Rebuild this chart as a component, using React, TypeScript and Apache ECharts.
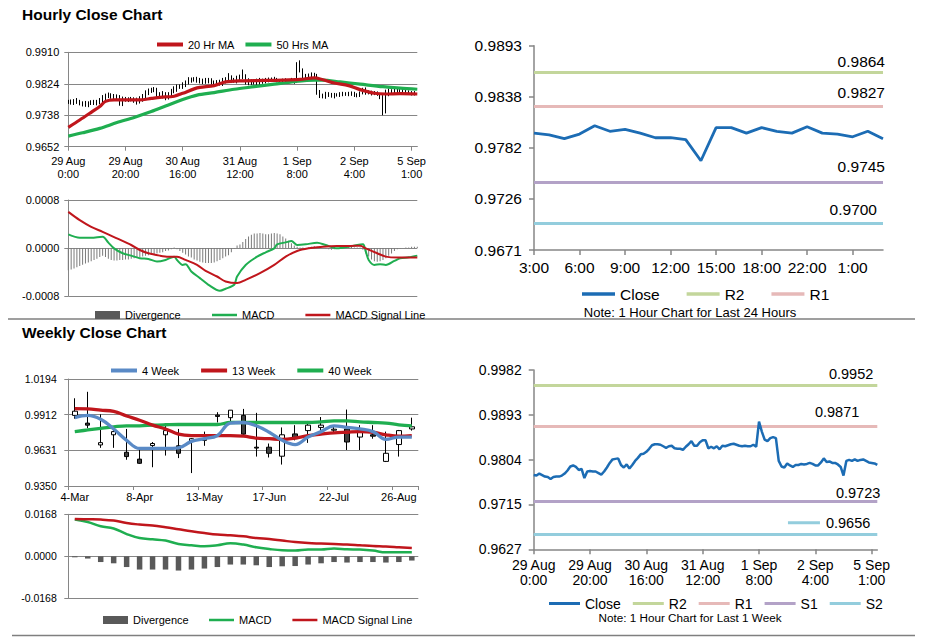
import React, { useEffect, useRef } from 'react';
import * as echarts from 'echarts';

// ---------------- DATA ----------------
// Hourly (29 Aug 0:00 .. 5 Sep 2:00), one value per hour
const hourlyTickLabels = ['29 Aug\n0:00', '29 Aug\n20:00', '30 Aug\n16:00', '31 Aug\n12:00', '1 Sep\n8:00', '2 Sep\n4:00', '5 Sep\n1:00'];
const hourlyClose = [
  0.9774, 0.9773, 0.9777, 0.9774, 0.9771, 0.9770, 0.9766, 0.9770, 0.9771, 0.9771,
  0.9773, 0.9777, 0.9783, 0.9791, 0.9793, 0.9790, 0.9784, 0.9786, 0.9768, 0.9781,
  0.9782, 0.9781, 0.9781, 0.9778, 0.9775, 0.9781, 0.9789, 0.9798, 0.9805, 0.9806,
  0.9807, 0.9794, 0.9789, 0.9795, 0.9787, 0.9794, 0.9802, 0.9808, 0.9815, 0.9816,
  0.9820, 0.9826, 0.9833, 0.9835, 0.9835, 0.9834, 0.9831, 0.9828, 0.9831, 0.9832,
  0.9827, 0.9826, 0.9826, 0.9824, 0.9830, 0.9835, 0.9841, 0.9832, 0.9832, 0.9839,
  0.9843, 0.9843, 0.9827, 0.9830, 0.9827, 0.9831, 0.9825, 0.9832, 0.9831, 0.9833,
  0.9835, 0.9836, 0.9834, 0.9832, 0.9831, 0.9832, 0.9831, 0.9831, 0.9834, 0.9830,
  0.9880, 0.9860, 0.9844, 0.9841, 0.9847, 0.9849, 0.9847, 0.9802, 0.9791, 0.9789,
  0.9797, 0.9793, 0.9790, 0.9794, 0.9794, 0.9796, 0.9795, 0.9796, 0.9798, 0.9796,
  0.9793, 0.9793, 0.9799, 0.9807, 0.9800, 0.9801, 0.9798, 0.9798, 0.9795, 0.9790,
  0.9773, 0.9802, 0.9804, 0.9802, 0.9805, 0.9802, 0.9804, 0.9805, 0.9802, 0.9799,
  0.9798, 0.9797, 0.9794,
];
// hourly high / low extents in pips beyond the open-close body
const hourlyHighPips = [
  6, 7, 5, 8, 6, 5, 7, 6, 8, 9, 7, 8, 10, 6, 7, 5, 6, 9, 7, 8,
  6, 5, 7, 6, 8, 9, 7, 8, 6, 7, 8, 6, 7, 9, 6, 7, 8, 9, 7, 6,
  8, 7, 9, 6, 7, 8, 6, 7, 9, 8, 7, 6, 8, 9, 10, 7, 12, 6, 8, 7,
  6, 20, 7, 9, 6, 5, 7, 8, 6, 7, 6, 5, 7, 6, 5, 6, 7, 5, 6, 5,
  3, 8, 6, 7, 5, 6, 5, 4, 5, 6, 5, 4, 6, 5, 4, 5, 6, 5, 4, 5,
  6, 5, 4, 6, 7, 5, 4, 6, 5, 4, 3, 6, 7, 5, 6, 5, 7, 6, 5, 4,
  5, 6, 4,
];
const hourlyLowPips = [
  5, 6, 7, 5, 6, 8, 5, 6, 4, 5, 6, 5, 7, 8, 6, 7, 5, 6, 4, 5,
  6, 7, 5, 6, 8, 5, 6, 4, 5, 6, 5, 7, 6, 5, 8, 6, 5, 4, 6, 5,
  6, 5, 4, 6, 5, 7, 6, 5, 4, 6, 5, 6, 7, 5, 6, 5, 4, 6, 5, 7,
  5, 6, 5, 7, 6, 5, 6, 5, 7, 6, 5, 6, 5, 4, 6, 5, 6, 5, 4, 6,
  4, 5, 6, 5, 4, 6, 5, 8, 6, 5, 6, 5, 4, 6, 5, 6, 5, 4, 6, 5,
  5, 6, 5, 4, 6, 5, 6, 5, 4, 8, 35, 30, 12, 6, 5, 6, 5, 4, 6, 5,
  6, 5, 7,
];
// moving averages [hour index, value]
const ma20Hr = [
  [0, 0.9705], [4, 0.9725], [8, 0.9746], [11, 0.9762], [13, 0.9776], [16, 0.9780], [20, 0.9780],
  [25, 0.9780], [29, 0.9784], [32, 0.9787], [37, 0.9790], [40, 0.9798], [44, 0.9810], [46, 0.9814],
  [51, 0.9819], [55, 0.9829], [60, 0.9832], [69, 0.9833], [75, 0.9834], [81, 0.9836], [86, 0.9840],
  [89, 0.9835], [93, 0.9826], [98, 0.9819], [102, 0.9808], [107, 0.9798], [111, 0.9796], [116, 0.9797],
  [122, 0.9796],
];
const ma50Hr = [
  [0, 0.9681], [5, 0.9690], [11, 0.9702], [17, 0.9718], [23, 0.9732], [29, 0.9748], [34, 0.9763],
  [40, 0.9781], [45, 0.9793], [51, 0.9800], [58, 0.9809], [65, 0.9816], [72, 0.9823], [79, 0.9830],
  [86, 0.9834], [89, 0.9834], [95, 0.9829], [102, 0.9823], [110, 0.9816], [116, 0.9812], [122, 0.9809],
];
// MACD panel, values in units of 0.0001
const hourlyMacdE4 = [
  [0, 2.26], [4, 1.71], [8, 1.71], [12, 1.88], [14, 0.9], [16, -0.06], [19, -0.88], [22, -1.27],
  [25, -1.71], [28, -1.82], [31, -2.26], [34, -1.99], [37, -1.44], [38, -2.0], [40, -2.82], [41, -2.70],
  [43, -3.92], [46, -5.02], [49, -6.13], [53, -7.12], [55, -6.79], [58, -6.13], [59, -4.75], [62, -2.82],
  [66, -1.44], [69, -0.72], [72, -0.06], [73, 0.61], [76, 0.94], [78, 1.16], [80, 0.50], [83, 0.61],
  [87, 0.88], [90, 0.50], [94, -0.06], [97, 0.11], [101, 0.50], [103, 0.61], [104, -0.61], [105, -1.99],
  [107, -2.82], [109, -2.70], [111, -2.82], [114, -2.15], [116, -1.71], [119, -1.55], [122, -1.27],
];
const hourlySignalE4 = [
  [0, 6.02], [4, 4.64], [8, 3.53], [12, 2.70], [17, 1.60], [22, 0.50], [25, -0.33], [28, -0.88],
  [32, -1.27], [35, -1.44], [38, -1.44], [41, -1.99], [45, -2.82], [48, -3.81], [52, -4.75], [55, -5.58],
  [59, -5.85], [62, -5.30], [67, -4.20], [72, -2.82], [76, -1.44], [80, -0.50], [84, -0.06], [89, 0.22],
  [94, 0.33], [98, 0.33], [102, 0.39], [104, -0.06], [108, -0.88], [111, -1.44], [115, -1.60], [122, -1.60],
];
const hourlyDivergenceE4 = [
  -3.7, -3.6, -3.4, -3.2, -3.0, -2.8, -2.6, -2.4, -2.2, -2.0,
  -1.8, -1.5, -1.3, -1.5, -1.8, -2.0, -2.1, -2.1, -2.0, -2.0,
  -1.9, -1.9, -1.8, -1.7, -1.6, -1.5, -1.4, -1.3, -1.2, -1.1,
  -1.0, -0.9, -0.8, -0.7, -0.5, -0.4, -0.2, 0.1, -0.2, -0.5,
  -0.8, -1.1, -1.4, -1.6, -1.9, -2.1, -2.3, -2.4, -2.5, -2.5,
  -2.5, -2.4, -2.2, -2.0, -1.7, -1.4, -1.2, -0.7, -0.1, 0.4,
  0.6, 1.0, 1.5, 1.9, 2.2, 2.4, 2.4, 2.5, 2.4, 2.3,
  2.3, 2.4, 2.5, 2.4, 2.3, 1.9, 1.6, 1.2, 0.8, 0.4,
  0.2, 0.1, 0.1, -0.1, 0.1, 0.2, 0.3, 0.2, 0.1, 0.0,
  -0.1, -0.2, -0.3, -0.2, -0.1, 0.0, 0.1, 0.1, 0.2, 0.2,
  0.1, 0.1, 0.1, -0.3, -0.9, -1.4, -1.9, -2.2, -2.3, -2.2,
  -2.0, -1.7, -1.3, -0.9, -0.5, -0.2, -0.1, 0.0, 0.1, 0.1,
  0.2, 0.2, 0.2,
];
const hourlyPriceTicks = ['0.9652', '0.9738', '0.9824', '0.9910'];
const hourlyMacdTicks = ['-0.0008', '0.0000', '0.0008'];

// Last 24 hours
const last24Hours = ['3:00', '4:00', '5:00', '6:00', '7:00', '8:00', '9:00', '10:00', '11:00', '12:00', '13:00', '14:00',
  '15:00', '16:00', '17:00', '18:00', '19:00', '20:00', '22:00', '23:00', '0:00', '1:00', '2:00', '3:00'];
const last24Close = [0.9798, 0.9796, 0.9792, 0.9797, 0.9806, 0.9800, 0.9802, 0.9798, 0.9793, 0.9793, 0.9791, 0.9768,
  0.9804, 0.9804, 0.9798, 0.9804, 0.9800, 0.9798, 0.9805, 0.9798, 0.9797, 0.9794, 0.9800, 0.9792];
const last24Ticks = ['0.9671', '0.9726', '0.9782', '0.9838', '0.9893'];
const levelNames = ['R2', 'R1', 'S1', 'S2'];
const last24Levels = [0.9864, 0.9827, 0.9745, 0.9700];
const weekHourlyTicks = ['0.9627', '0.9715', '0.9804', '0.9893', '0.9982'];
const weekHourlyLevels = [0.9952, 0.9871, 0.9723, 0.9656];

// Weekly
const weekDates = ['4-Mar', '11-Mar', '18-Mar', '25-Mar', '1-Apr', '8-Apr', '15-Apr', '22-Apr', '29-Apr', '6-May',
  '13-May', '20-May', '27-May', '3-Jun', '10-Jun', '17-Jun', '24-Jun', '1-Jul', '8-Jul', '15-Jul', '22-Jul',
  '29-Jul', '5-Aug', '12-Aug', '19-Aug', '26-Aug', '2-Sep'];
const weeklyOpen = [0.9907, 0.9846, 0.9674, 0.9754, 0.9616, 0.9562, 0.9669, 0.9754, 0.9667, 0.9702, 0.9710, 0.9909,
  0.9889, 0.9907, 0.9656, 0.9656, 0.9585, 0.9761, 0.9787, 0.9812, 0.9790, 0.9800, 0.9736, 0.9754, 0.9544, 0.9677, 0.9800];
const weeklyClose = [0.9940, 0.9830, 0.9692, 0.9779, 0.9582, 0.9529, 0.9685, 0.9787, 0.9608, 0.9723, 0.9723, 0.9899,
  0.9948, 0.9759, 0.9649, 0.9608, 0.9754, 0.9723, 0.9830, 0.9830, 0.9798, 0.9697, 0.9787, 0.9743, 0.9608, 0.9787, 0.9817];
const weeklyLow = [0.9881, 0.9805, 0.9651, 0.9651, 0.9557, 0.9524, 0.9498, 0.9590, 0.9570, 0.9452, 0.9667, 0.9851,
  0.9863, 0.9754, 0.9582, 0.9575, 0.9519, 0.9710, 0.9690, 0.9774, 0.9770, 0.9634, 0.9634, 0.9723, 0.9539, 0.9582, 0.9787];
const weeklyHigh = [1.0042, 1.0093, 0.9915, 0.9812, 0.9800, 0.9641, 0.9697, 0.9825, 0.9800, 0.9728, 0.9779, 0.9932,
  0.9948, 0.9958, 0.9927, 0.9685, 0.9812, 0.9830, 0.9863, 0.9894, 0.9830, 0.9953, 0.9830, 0.9830, 0.9779, 0.9792, 0.9889];
const ma4Week = [0.9889, 0.9907, 0.9876, 0.9800, 0.9710, 0.9646, 0.9646, 0.9646, 0.9651, 0.9702, 0.9723, 0.9748, 0.9846,
  0.9851, 0.9825, 0.9774, 0.9710, 0.9677, 0.9736, 0.9779, 0.9825, 0.9812, 0.9800, 0.9779, 0.9718, 0.9736, 0.9736];
const ma13Week = [0.9961, 0.9958, 0.9948, 0.9938, 0.9902, 0.9869, 0.9830, 0.9800, 0.9759, 0.9748, 0.9748, 0.9748, 0.9748,
  0.9743, 0.9728, 0.9723, 0.9718, 0.9728, 0.9748, 0.9759, 0.9769, 0.9774, 0.9779, 0.9774, 0.9754, 0.9743, 0.9748];
const ma40Week = [0.9779, 0.9792, 0.9805, 0.9817, 0.9825, 0.9825, 0.9830, 0.9833, 0.9835, 0.9835, 0.9835, 0.9835, 0.9851,
  0.9851, 0.9851, 0.9851, 0.9851, 0.9851, 0.9851, 0.9856, 0.9863, 0.9863, 0.9856, 0.9851, 0.9846, 0.9833, 0.9825];
const weeklyTicks = ['0.9350', '0.9631', '0.9912', '1.0194'];
const weeklyMacd = [0.0147, 0.0137, 0.0120, 0.0111, 0.0089, 0.0073, 0.0068, 0.0063, 0.0049, 0.0044, 0.0040, 0.0044, 0.0052,
  0.0047, 0.0036, 0.0029, 0.0024, 0.0023, 0.0027, 0.0027, 0.0031, 0.0028, 0.0027, 0.0023, 0.0016, 0.0016, 0.0016];
const weeklySignal = [0.0149, 0.0148, 0.0147, 0.0143, 0.0133, 0.0127, 0.0123, 0.0116, 0.0108, 0.0100, 0.0093, 0.0087, 0.0084,
  0.0080, 0.0073, 0.0069, 0.0063, 0.0057, 0.0053, 0.0051, 0.0049, 0.0047, 0.0044, 0.0041, 0.0039, 0.0036, 0.0033];
const weeklyDivergence = [-0.0004, -0.0009, -0.0023, -0.0028, -0.0043, -0.0053, -0.0053, -0.0053, -0.0057, -0.0053, -0.0049,
  -0.0043, -0.0033, -0.0033, -0.0036, -0.0043, -0.0040, -0.0039, -0.0033, -0.0028, -0.0023, -0.0025, -0.0023, -0.0023,
  -0.0025, -0.0023, -0.0017];
const weeklyMacdTicks = ['-0.0168', '0.0000', '0.0168'];

// ---------------- STYLE ----------------
const FONT = '"Liberation Sans", Arial, sans-serif';
const GRID = '#868686';
const RED = '#c0161c';
const GREEN = '#1fae50';
const BLUE4 = '#5a8ac6';
const CLOSE_BLUE = '#1c6cb4';
const LEVEL_COLORS = ['#c3d69b', '#e6b9b8', '#b3a2c7', '#93cddd'];

function priceAxis(gridIndex: number, labels: string[], o: any) {
  const lo = parseFloat(labels[0]);
  const span = parseFloat(labels[labels.length - 1]) - lo;
  const step = span / (labels.length - 1);
  return {
    type: 'value', gridIndex, min: 0, max: span, interval: step,
    axisLine: { show: true, lineStyle: { color: GRID, width: o.aw || 1 } },
    axisTick: { show: true, length: o.tick || 4, lineStyle: { color: GRID, width: o.aw || 1 } },
    splitLine: { show: !!o.grid, lineStyle: { color: GRID, width: 1 } },
    axisLabel: { fontSize: o.fs, margin: o.margin, color: '#000', formatter: (v: number) => labels[Math.round(v / step)] ?? '' },
  };
}
function macdAxis(gridIndex: number, labels: string[], scale: number, o: any) {
  const hi = parseFloat(labels[labels.length - 1]) * scale;
  return {
    type: 'value', gridIndex, min: -hi, max: hi, interval: hi,
    axisLine: { show: true, lineStyle: { color: GRID } },
    axisTick: { show: true, length: 4, lineStyle: { color: GRID } },
    splitLine: { show: true, lineStyle: { color: GRID, width: 1 } },
    axisLabel: { fontSize: o.fs, margin: o.margin, color: '#000', formatter: (v: number) => labels[Math.round(v / hi) + 1] ?? '' },
  };
}

// empty series: only gives the legend its coloured key
function legendKeySeries(i: number, xi: number, yi: number) {
  const color = LEVEL_COLORS[i];
  return {
    type: 'line', name: levelNames[i], xAxisIndex: xi, yAxisIndex: yi, data: [], symbol: 'none',
    itemStyle: { color }, lineStyle: { color, width: 3 },
  };
}
function levelMarkLine(levels: number[], base: number, labs: any[]) {
  return {
    silent: true, symbol: 'none', animation: false, z: 1, precision: 8,
    emphasis: { disabled: true },
    data: levels.map((v, i) => ({
      yAxis: v - base,
      lineStyle: { color: LEVEL_COLORS[i], width: 3, type: 'solid' },
      label: {
        show: true, position: 'insideEndTop', color: '#000', fontFamily: FONT, fontSize: labs[i].fs,
        distance: labs[i].d, formatter: labs[i].fmt || (() => v.toFixed(4)), rich: labs[i].rich,
      },
    })),
  };
}

function buildOption() {
  const hourlyCats = hourlyClose.map((_, i) => String(i));
  const hBase = parseFloat(hourlyPriceTicks[0]);
  const lBase = parseFloat(last24Ticks[0]);
  const wBase = parseFloat(weeklyTicks[0]);
  const bBase = parseFloat(weekHourlyTicks[0]);

  const hourlyBars = hourlyClose.map((c, i) => {
    const o = i === 0 ? c : hourlyClose[i - 1];
    const hi = Math.max(o, c) + hourlyHighPips[i] * 1e-4;
    const lo = Math.min(o, c) - hourlyLowPips[i] * 1e-4;
    return [o - hBase, c - hBase, lo - hBase, hi - hBase];
  });
  const weeklyCandles = weekDates.map((_, i) => [
    weeklyOpen[i] - wBase, weeklyClose[i] - wBase, weeklyLow[i] - wBase, weeklyHigh[i] - wBase,
  ]);
  const shift = (arr: number[], b: number) => arr.map((v) => v - b);
  const shiftPairs = (arr: number[][], b: number) => arr.map(([i, v]) => [i, v - b]);

  const hourLabel = (_v: string, idx: number) => hourlyTickLabels[idx / 20] ?? '';

  const xAxis: any[] = [
    {
      type: 'category', gridIndex: 0, data: hourlyCats, boundaryGap: false,
      axisLine: { show: true, onZero: false, lineStyle: { color: GRID } },
      axisTick: { show: true, interval: 19, length: 4, lineStyle: { color: GRID } },
      axisLabel: { interval: 19, formatter: hourLabel, fontSize: 11, lineHeight: 13, margin: 7.5, color: '#000' },
    },
    {
      type: 'category', gridIndex: 1, data: hourlyCats, boundaryGap: false,
      axisLine: { show: false }, axisTick: { show: false }, axisLabel: { show: false },
    },
    {
      type: 'category', gridIndex: 2, data: last24Hours, boundaryGap: false,
      axisLine: { show: true, onZero: false, lineStyle: { color: GRID, width: 1.5 } },
      axisTick: { show: true, interval: 2, length: 5, lineStyle: { color: GRID, width: 1.5 } },
      axisLabel: { interval: 2, fontSize: 15.5, margin: 9, color: '#000' },
    },
    {
      type: 'category', gridIndex: 3, data: weekDates, boundaryGap: true,
      axisLine: { show: true, onZero: false, lineStyle: { color: GRID } },
      axisTick: { show: true, interval: 4, length: 4, lineStyle: { color: GRID } },
      axisLabel: { interval: 4, fontSize: 11, margin: 5.5, color: '#000' },
    },
    {
      type: 'category', gridIndex: 4, data: weekDates, boundaryGap: true,
      axisLine: { show: false }, axisTick: { show: false }, axisLabel: { show: false },
    },
    {
      type: 'category', gridIndex: 5, data: hourlyCats, boundaryGap: false,
      axisLine: { show: true, onZero: false, lineStyle: { color: GRID, width: 1.5 } },
      axisTick: { show: true, interval: 19, length: 5, lineStyle: { color: GRID, width: 1.5 } },
      axisLabel: { interval: 19, formatter: hourLabel, fontSize: 14, lineHeight: 15.5, margin: 7.5, color: '#000' },
    },
  ];

  const yAxis: any[] = [
    priceAxis(0, hourlyPriceTicks, { fs: 11, margin: 9, grid: true }),
    macdAxis(1, hourlyMacdTicks, 1e4, { fs: 11, margin: 9 }),
    priceAxis(2, last24Ticks, { fs: 15.5, margin: 12, tick: 5, aw: 1.5 }),
    priceAxis(3, weeklyTicks, { fs: 10.5, margin: 11.5, grid: true }),
    macdAxis(4, weeklyMacdTicks, 1, { fs: 10.5, margin: 11.5 }),
    priceAxis(5, weekHourlyTicks, { fs: 14, margin: 12, tick: 5, aw: 1.5 }),
  ];

  const lineBase = { type: 'line', symbol: 'none', showSymbol: false };

  const top24Labels = [
    { fs: 15.5, d: [-2, 3] },
    { fs: 15.5, d: [-2, 6] },
    { fs: 15.5, d: [-2, 7] },
    { fs: 15.5, d: [6, 6] },
  ];
  const weekLabels = [
    { fs: 14.5, d: [4, 4] },
    { fs: 14.5, d: [18, 6.5] },
    { fs: 14.5, d: [-3, 0] },
    {
      fs: 14.5, d: [7, 4.5],
      fmt: () => `{k|}{v|${weekHourlyLevels[3].toFixed(4)}}`,
      rich: {
        k: { width: 32, height: 3, backgroundColor: LEVEL_COLORS[3] },
        v: { fontSize: 14.5, fontFamily: FONT, color: '#000', padding: [0, 0, 0, 6] },
      },
    },
  ];

  const series: any[] = [
    // ---- hourly price ----
    {
      type: 'candlestick', name: 'Hourly', xAxisIndex: 0, yAxisIndex: 0, data: hourlyBars, barWidth: 1,
      itemStyle: { color: '#000', color0: '#000', borderColor: '#000', borderColor0: '#000', borderWidth: 1 },
    },
    { ...lineBase, name: '50 Hrs MA', xAxisIndex: 0, yAxisIndex: 0, data: shiftPairs(ma50Hr, hBase), smooth: 0.3,
      itemStyle: { color: GREEN }, lineStyle: { color: GREEN, width: 3.2 } },
    { ...lineBase, name: '20 Hr MA', xAxisIndex: 0, yAxisIndex: 0, data: shiftPairs(ma20Hr, hBase), smooth: 0.3,
      itemStyle: { color: RED }, lineStyle: { color: RED, width: 3.2 } },
    // ---- hourly MACD ----
    { type: 'bar', name: 'Divergence', xAxisIndex: 1, yAxisIndex: 1, data: hourlyDivergenceE4, barWidth: 1,
      itemStyle: { color: '#7a7a7a' } },
    { ...lineBase, name: 'MACD', xAxisIndex: 1, yAxisIndex: 1, data: hourlyMacdE4, smooth: 0.3,
      itemStyle: { color: GREEN }, lineStyle: { color: GREEN, width: 2 } },
    { ...lineBase, name: 'MACD Signal Line', xAxisIndex: 1, yAxisIndex: 1, data: hourlySignalE4, smooth: 0.3,
      itemStyle: { color: RED }, lineStyle: { color: RED, width: 2 } },
    // ---- last 24 hours ----
    ...levelNames.map((_, i) => legendKeySeries(i, 2, 2)),
    { ...lineBase, name: 'Close', xAxisIndex: 2, yAxisIndex: 2, data: shift(last24Close, lBase), z: 3,
      itemStyle: { color: CLOSE_BLUE }, lineStyle: { color: CLOSE_BLUE, width: 2.8 },
      markLine: levelMarkLine(last24Levels, lBase, top24Labels) },
    // ---- weekly ----
    {
      type: 'candlestick', name: 'Weekly', xAxisIndex: 3, yAxisIndex: 3, data: weeklyCandles, barWidth: 5,
      itemStyle: { color: '#ffffff', color0: '#404040', borderColor: '#000', borderColor0: '#000', borderWidth: 1 },
    },
    { ...lineBase, name: '40 Week', xAxisIndex: 3, yAxisIndex: 3, data: shift(ma40Week, wBase), smooth: 0.4,
      itemStyle: { color: GREEN }, lineStyle: { color: GREEN, width: 3.3 } },
    { ...lineBase, name: '13 Week', xAxisIndex: 3, yAxisIndex: 3, data: shift(ma13Week, wBase), smooth: 0.4,
      itemStyle: { color: RED }, lineStyle: { color: RED, width: 3.3 } },
    { ...lineBase, name: '4 Week', xAxisIndex: 3, yAxisIndex: 3, data: shift(ma4Week, wBase), smooth: 0.4,
      itemStyle: { color: BLUE4 }, lineStyle: { color: BLUE4, width: 3.3 } },
    // ---- weekly MACD ----
    { type: 'bar', name: 'Divergence', xAxisIndex: 4, yAxisIndex: 4, data: weeklyDivergence, barWidth: 5.5,
      itemStyle: { color: '#595959' } },
    { ...lineBase, name: 'MACD', xAxisIndex: 4, yAxisIndex: 4, data: weeklyMacd, smooth: 0.4,
      itemStyle: { color: GREEN }, lineStyle: { color: GREEN, width: 2.5 } },
    { ...lineBase, name: 'MACD Signal Line', xAxisIndex: 4, yAxisIndex: 4, data: weeklySignal, smooth: 0.4,
      itemStyle: { color: RED }, lineStyle: { color: RED, width: 2.5 } },
    // ---- hourly, last week ----
    { ...lineBase, name: 'Close', xAxisIndex: 5, yAxisIndex: 5, data: shift(hourlyClose, bBase), z: 3,
      itemStyle: { color: CLOSE_BLUE }, lineStyle: { color: CLOSE_BLUE, width: 2.5 },
      markLine: levelMarkLine(weekHourlyLevels, bBase, weekLabels) },
  ];

  const legendText = (fs: number) => ({ fontSize: fs, color: '#000', fontFamily: FONT });
  const lg = (left: number, top: number, w: number, h: number, gap: number, fs: number, data: string[]) => ({
    left, top, itemWidth: w, itemHeight: h, itemGap: gap, icon: 'rect', textStyle: legendText(fs),
    itemStyle: { borderWidth: 0 }, selectedMode: false, data,
  });
  const legend: any[] = [
    lg(152, 34, 26, 4, 11, 11, ['20 Hr MA', '50 Hrs MA']),
    { ...lg(90, 304.5, 25, 8, 31, 11, ['Divergence']), itemStyle: { color: '#595959', borderWidth: 0 } },
    lg(207, 304.5, 25, 2.5, 31, 11, ['MACD', 'MACD Signal Line']),
    lg(577, 281, 33, 3.3, 27, 15.5, ['Close', 'R2', 'R1']),
    lg(106, 360, 26, 4, 22, 11, ['4 Week', '13 Week', '40 Week']),
    { ...lg(98, 609.5, 25, 8, 21, 11, ['Divergence']), itemStyle: { color: '#595959', borderWidth: 0 } },
    lg(204, 609.5, 25, 2.5, 21, 11, ['MACD', 'MACD Signal Line']),
    lg(544, 591.5, 31, 3, 12, 14, ['Close', 'R2', 'R1', 'S1', 'S2']),
  ];

  const graphic: any[] = [
    { type: 'text', x: 22, y: 14, style: { text: 'Hourly Close Chart', fontSize: 15.5, fontWeight: 'bold', fontFamily: FONT, fill: '#000', verticalAlign: 'middle' } },
    { type: 'text', x: 22, y: 332.7, style: { text: 'Weekly Close Chart', fontSize: 15.5, fontWeight: 'bold', fontFamily: FONT, fill: '#000', verticalAlign: 'middle' } },
    { type: 'text', x: 690, y: 312, style: { text: 'Note: 1 Hour Chart for Last 24 Hours', fontSize: 13, fontFamily: FONT, fill: '#000', align: 'center', verticalAlign: 'middle' } },
    { type: 'text', x: 690, y: 617, style: { text: 'Note: 1 Hour Chart for Last 1 Week', fontSize: 11.7, fontFamily: FONT, fill: '#000', align: 'center', verticalAlign: 'middle' } },
    { type: 'line', shape: { x1: 8, y1: 319, x2: 915, y2: 319 }, style: { stroke: '#7f7f7f', lineWidth: 1.5 } },
    { type: 'line', shape: { x1: 12, y1: 635.5, x2: 915, y2: 635.5 }, style: { stroke: '#7f7f7f', lineWidth: 1.5 } },
  ];

  return {
    animation: false,
    backgroundColor: '#ffffff',
    textStyle: { fontFamily: FONT, color: '#000' },
    grid: [
      { left: 68.3, top: 52.3, width: 349, height: 94.4, containLabel: false, outerBoundsMode: 'none' },
      { left: 68.3, top: 200, width: 349, height: 96, containLabel: false, outerBoundsMode: 'none' },
      { left: 534, top: 45.7, width: 349, height: 204.3, containLabel: false, outerBoundsMode: 'none' },
      { left: 68.3, top: 379, width: 350, height: 107, containLabel: false, outerBoundsMode: 'none' },
      { left: 68.3, top: 514.3, width: 350, height: 84, containLabel: false, outerBoundsMode: 'none' },
      { left: 533.7, top: 370, width: 343.6, height: 179.3, containLabel: false, outerBoundsMode: 'none' },
    ],
    xAxis, yAxis, legend, graphic, series,
  };
}

export default function App() {
  const ref = useRef<HTMLDivElement>(null);
  useEffect(() => {
    if (!ref.current) return;
    const chart = echarts.init(ref.current, null, { renderer: 'svg' });
    chart.setOption(buildOption() as any);
    return () => chart.dispose();
  }, []);
  return (
    <div
      ref={ref}
      style={{ position: 'absolute', left: 0, top: 0, width: 928, height: 638, background: '#fff' }}
    />
  );
}
